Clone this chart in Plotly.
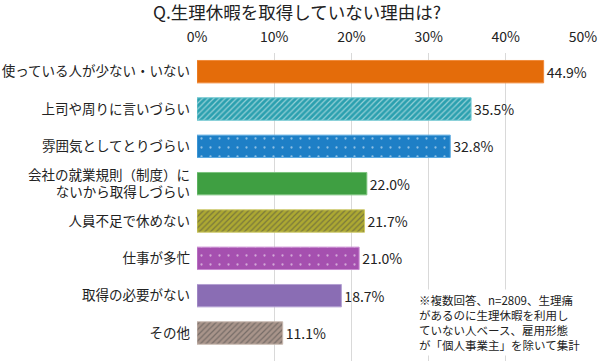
import plotly.graph_objects as go

categories = [
    "使っている人が少ない・いない",
    "上司や周りに言いづらい",
    "雰囲気としてとりづらい",
    "会社の就業規則（制度）に<br>ないから取得しづらい",
    "人員不足で休めない",
    "仕事が多忙",
    "取得の必要がない",
    "その他",
]
values = [44.9, 35.5, 32.8, 22.0, 21.7, 21.0, 18.7, 11.1]
tick_vals = [0, 10, 20, 30, 40, 50]
tick_text = ["0%", "10%", "20%", "30%", "40%", "50%"]

bg_colors = ["#E46C0A", "#2BA0AF", "#1E7FC6", "#3F9F42", "#ADA932", "#A550AF", "#8A6DB4", "#A8948A"]
fg_colors = ["#E46C0A", "#6FC5CE", "#B5D9F3", "#3F9F42", "#8E8B20", "#E6C2EA", "#8A6DB4", "#C9BBB3"]
line_colors = ["#F08A3A", "#6CC6CF", "#5AA9E0", "#7CC47E", "#CFCB6A", "#C98BD1", "#B3A0D2", "#C8B8AF"]
shapes = ["", "/", ".", "", "/", ".", "", "/"]
sizes = [5, 4, 9, 5, 4, 9, 5, 4]
solidities = [0.3, 0.3, 0.05, 0.3, 0.3, 0.05, 0.3, 0.3]

FONT = "Noto Sans CJK JP"

L, R, T, B = 197, 17, 53, 0
W, H = 600, 361
pw, ph = W - L - R, H - T - B

fig = go.Figure(
    go.Bar(
        x=values,
        y=categories,
        orientation="h",
        width=0.6,
        marker=dict(
            color=bg_colors,
            line=dict(color=line_colors, width=1),
            pattern=dict(
                shape=shapes,
                bgcolor=bg_colors,
                fgcolor=fg_colors,
                size=sizes,
                solidity=solidities,
            ),
        ),
        text=[f"{v:.1f}%" for v in values],
        textposition="outside",
        textfont=dict(size=14, color="#222222", family=FONT),
        cliponaxis=False,
        hoverinfo="skip",
    )
)

fig.update_layout(
    width=W,
    height=H,
    margin=dict(l=L, r=R, t=T, b=B, autoexpand=False),
    paper_bgcolor="white",
    plot_bgcolor="white",
    font=dict(family=FONT, color="#222222"),
    showlegend=False,
    title=dict(
        text="Q.生理休暇を取得していない理由は?",
        x=0.495,
        xanchor="center",
        y=1 - 13 / H,
        yanchor="middle",
        font=dict(size=17.5, color="#222222", family=FONT),
    ),
    xaxis=dict(
        side="top",
        range=[0, 50],
        tickvals=tick_vals,
        ticktext=tick_text,
        showgrid=True,
        gridcolor="#D9D9D9",
        gridwidth=1,
        zeroline=False,
        showline=False,
        ticks="",
        automargin=False,
        tickfont=dict(size=14, color="#222222"),
        ticklabelstandoff=7,
        fixedrange=True,
    ),
    yaxis=dict(
        range=[7.75, -0.5],
        showgrid=False,
        zeroline=False,
        showline=False,
        ticks="",
        automargin=False,
        ticklabelstandoff=6,
        tickfont=dict(size=13.5, color="#222222"),
        fixedrange=True,
    ),
    annotations=[
        dict(
            text="※複数回答、n=2809、生理痛<br>があるのに生理休暇を利用し<br>ていない人ベース、雇用形態<br>が「個人事業主」を除いて集計",
            xref="paper",
            yref="paper",
            x=(416 - L) / pw,
            y=1 - (289 - T) / ph,
            xanchor="left",
            yanchor="top",
            align="left",
            showarrow=False,
            bgcolor="white",
            borderpad=2,
            font=dict(size=11.5, color="#222222", family=FONT),
        )
    ],
)

fig.write_html(
    "out.html",
    config={"displayModeBar": False},
    post_script="document.body.style.margin='0px';",
)
